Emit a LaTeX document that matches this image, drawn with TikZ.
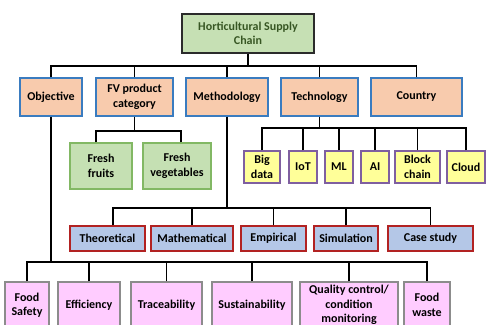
\documentclass[tikz,border=0pt]{standalone}
\usepackage{fontspec}
\setmainfont{Carlito}
\begin{document}
\definecolor{rootfill}{HTML}{C6E0B4}
\definecolor{rootdraw}{HTML}{2B2B2B}
\definecolor{roottext}{HTML}{375623}
\definecolor{catfill}{HTML}{F8CBAD}
\definecolor{catdraw}{HTML}{3A7CC0}
\definecolor{frfill}{HTML}{C5E0B3}
\definecolor{frdraw}{HTML}{82B864}
\definecolor{techfill}{HTML}{FFFF99}
\definecolor{techdraw}{HTML}{7F5FA0}
\definecolor{methfill}{HTML}{B4C7E7}
\definecolor{methdraw}{HTML}{B22222}
\definecolor{objfill}{HTML}{FFCCFF}
\definecolor{objdraw}{HTML}{8C8C8C}
\begin{tikzpicture}[x=1pt,y=-1pt,
  box/.style={rectangle, inner sep=0pt, align=center, line width=1.4pt,
    font=\fontsize{12}{14.5}\selectfont\bfseries},
  rootbox/.style={box, fill=rootfill, draw=rootdraw, text=roottext},
  catbox/.style={box, fill=catfill, draw=catdraw},
  frbox/.style={box, fill=frfill, draw=frdraw},
  techbox/.style={box, fill=techfill, draw=techdraw},
  methbox/.style={box, fill=methfill, draw=methdraw},
  objbox/.style={box, fill=objfill, draw=objdraw},
  link/.style={draw=black, line width=1.3pt}]
\useasboundingbox (0,0) rectangle (486,324);
\clip (0,0) rectangle (486,324);
\fill[white] (0,0) rectangle (486,324);

% bus levels
\coordinate (b1) at (0,66);
\coordinate (bfv) at (0,131);
\coordinate (btech) at (0,128);
\coordinate (bmeth) at (0,208);
\coordinate (bobj) at (0,262);

% root
\node[rootbox, minimum width=132, minimum height=39] (root) at (248,33.5) {Horticultural Supply\\Chain};

% first level
\node[catbox, minimum width=62, minimum height=38] (obj) at (51,97) {Objective};
\node[catbox, minimum width=77, minimum height=38] (fv) at (134.5,97) {FV product\\category};
\node[catbox, minimum width=82, minimum height=38] (meth) at (227,97) {Methodology};
\node[catbox, minimum width=77, minimum height=38] (tech) at (319.5,97) {Technology};
\node[catbox, minimum width=91, minimum height=38] (country) at (416.5,97) {Country};

% product categories
\node[frbox, minimum width=62, minimum height=46] (fruit) at (101,166) {Fresh\\fruits};
\node[frbox, minimum width=68, minimum height=46] (veg) at (177,166) {Fresh\\vegetables};

% technologies
\node[techbox, minimum width=36, minimum height=32] (bigdata) at (262,167) {Big\\data};
\node[techbox, minimum width=28, minimum height=32] (iot) at (303,167) {IoT};
\node[techbox, minimum width=28, minimum height=32] (ml) at (339,167) {ML};
\node[techbox, minimum width=28, minimum height=32] (ai) at (375,167) {AI};
\node[techbox, minimum width=45, minimum height=32] (block) at (417.5,167) {Block\\chain};
\node[techbox, minimum width=38, minimum height=32] (cloud) at (466,167) {Cloud};

% methodologies
\node[methbox, minimum width=75, minimum height=25] (theo) at (107.5,238.5) {Theoretical};
\node[methbox, minimum width=82, minimum height=25] (math) at (192,238.5) {Mathematical};
\node[methbox, minimum width=65, minimum height=25] (emp) at (273.5,238.5) {Empirical};
\node[methbox, minimum width=64, minimum height=25] (sim) at (346,238.5) {Simulation};
\node[methbox, minimum width=85, minimum height=25] (case) at (430.5,238.5) {Case study};

% objectives
\node[objbox, minimum width=44, minimum height=46] (safety) at (27,305) {Food\\Safety};
\node[objbox, minimum width=62, minimum height=46] (eff) at (89,305) {Efficiency};
\node[objbox, minimum width=71, minimum height=46] (trace) at (166.5,305) {Traceability};
\node[objbox, minimum width=80, minimum height=46] (sust) at (252,305) {Sustainability};
\node[objbox, minimum width=98, minimum height=46] (qual) at (349,305) {Quality control/\\condition\\monitoring};
\node[objbox, minimum width=46, minimum height=46] (waste) at (427,305) {Food\\waste};

% root to first level
\draw[link] (root.south) -- (root.south |- b1);
\foreach \c in {obj,fv,meth,tech,country}
  \draw[link] (\c.north) |- (root.south |- b1);

% product categories
\draw[link] (fv.south) -- (fv.south |- bfv);
\draw[link] ([xshift=-5pt]fruit.north) |- ([xshift=1.5pt]fv.south |- bfv);
\draw[link] ([xshift=4pt]veg.north) |- ([xshift=1.5pt]fv.south |- bfv);

% technologies
\draw[link] (tech.south) -- (tech.south |- btech);
\foreach \c in {bigdata,iot,ml,ai,block,cloud}
  \draw[link] (\c.north) |- (tech.south |- btech);

% methodologies
\draw[link] (meth.south) -- (meth.south |- bmeth);
\draw[link] ([xshift=5.5pt]theo.north) |- (meth.south |- bmeth);
\foreach \c in {math,emp,sim,case}
  \draw[link] (\c.north) |- (meth.south |- bmeth);

% objectives
\draw[link] (obj.south) -- (obj.south |- bobj);
\foreach \c in {safety,eff,trace,sust,qual,waste}
  \draw[link] (\c.north) |- (obj.south |- bobj);
\end{tikzpicture}
\end{document}
